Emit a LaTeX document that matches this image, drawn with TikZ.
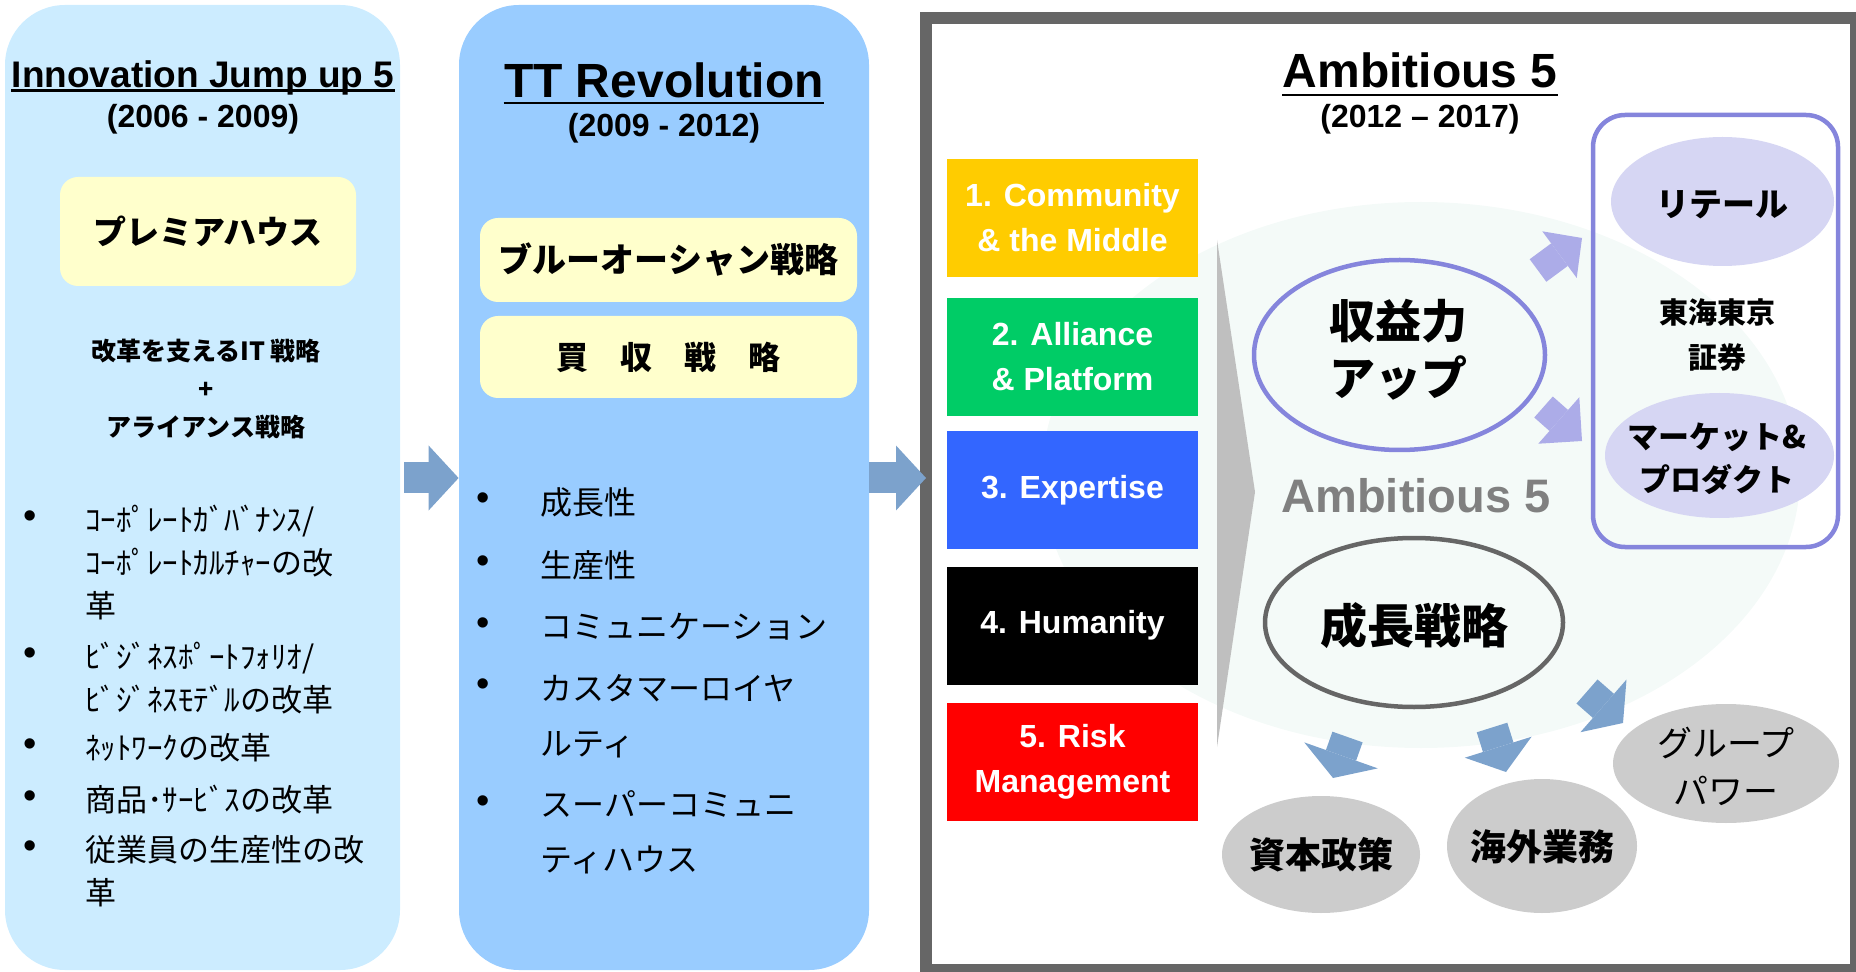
\documentclass[tikz,border=0pt]{standalone}
\usepackage{fontspec}
\setmainfont{Liberation Sans}
\newfontfamily\jpfont{Noto Sans CJK JP}
\usepackage{tikz}
\usetikzlibrary{arrows.meta, positioning, shapes.geometric, calc}
\definecolor{colPhaseA}{RGB}{204,236,255}
\definecolor{colPhaseB}{RGB}{153,204,255}
\definecolor{colNote}{RGB}{255,255,204}
\definecolor{colFrame}{RGB}{102,102,102}
\definecolor{colFlow}{RGB}{124,162,204}
\definecolor{colLilac}{RGB}{133,133,220}
\definecolor{colLilacBg}{RGB}{214,214,243}
\definecolor{colLilacArr}{RGB}{172,172,232}
\definecolor{colHalo}{RGB}{244,250,248}
\definecolor{colWedge}{RGB}{191,191,191}
\definecolor{colDisc}{RGB}{204,204,204}
\definecolor{colMark}{RGB}{128,128,128}
\definecolor{colP1}{RGB}{255,204,0}
\definecolor{colP2}{RGB}{0,204,102}
\definecolor{colP3}{RGB}{51,102,255}
\definecolor{colP5}{RGB}{255,0,0}
\tikzset{
  phase/.style={
    rectangle, rounded corners=30pt, inner sep=0pt,
    minimum width=197.5pt, minimum height=482.5pt
  },
  hilite/.style={
    rectangle, rounded corners=9pt, fill=colNote, inner sep=0pt
  },
  headline/.style={
    anchor=base, inner sep=0pt, font=\bfseries\fontsize{24}{28}\selectfont
  },
  years/.style={
    inner sep=0pt, font=\bfseries\fontsize{16}{19}\selectfont
  },
  uline/.style={line width=1.2pt},
  ambframe/.style={
    draw=colFrame, line width=6pt, rectangle, inner sep=0pt,
    minimum width=465pt, minimum height=476pt
  },
  pillar/.style={
    rectangle, inner sep=0pt, minimum width=125.5pt, minimum height=59pt,
    align=center, text=white, font=\bfseries\fontsize{16}{22.5}\selectfont
  },
  halo/.style={ellipse, fill=colHalo, inner sep=0pt},
  ring/.style={ellipse, line width=2.25pt, inner sep=0pt},
  pod/.style={ellipse, fill=colLilacBg, inner sep=0pt},
  disc/.style={ellipse, fill=colDisc, inner sep=0pt},
  jptext/.style={
    inner sep=0pt, align=center, font=\jpfont\bfseries\fontsize{18}{22}\selectfont
  },
  dotmark/.style={inner sep=0pt, font=\fontsize{19}{22}\selectfont},
  itemA/.style={
    anchor=west, align=left, inner sep=0pt,
    font=\jpfont\fontsize{15.5}{21.5}\selectfont
  },
  itemB/.style={
    anchor=west, align=left, inner sep=0pt,
    font=\jpfont\fontsize{16}{27.5}\selectfont
  },
  flowarr/.style={
    draw=colFlow, line width=15.5pt,
    -{Triangle[length=15pt, width=32.5pt, line width=0pt]}
  },
  bluearr/.style={
    draw=colFlow, line width=16pt,
    -{Triangle[length=13pt, width=35pt, line width=0pt]}
  },
  lilacarr/.style={
    draw=colLilacArr, line width=14pt,
    -{Triangle[length=14pt, width=29pt, line width=0pt]}
  },
}
\begin{document}
\begin{tikzpicture}[x=0.5pt, y=-0.5pt]
\useasboundingbox (0,0) rectangle (1856,972);
\clip (0,0) rectangle (1856,972);

% ── Panels ─────────────────────────────────────────────────────────────────
\node[phase, fill=colPhaseA] (jump) at (202.5,487.5) {};
\node[phase, fill=colPhaseB, minimum width=205pt] (revo) at (664,487.5) {};
\node[ambframe] (amb) at (1391,494) {};

% ── Panel 1: Innovation Jump up 5 ──────────────────────────────────────────
\node[headline, font=\bfseries\fontsize{18.5}{22}\selectfont] (jumpttl) at (203,88) {Innovation Jump up 5};
\draw[uline] ([yshift=-1.2pt]jumpttl.base west) -- ([yshift=-1.2pt]jumpttl.base east);
\node[years] (jumpyr) at (203,119) {(2006 - 2009)};
\node[hilite, minimum width=148pt, minimum height=54.5pt,
      font=\jpfont\bfseries\fontsize{16.5}{20}\selectfont] (premia) at (208,231.5) {プレミアハウス};
\node[jptext, font=\jpfont\bfseries\fontsize{12.5}{19}\selectfont] (itplus) at (206,389)
  {改革を支えるIT 戦略\\+\\アライアンス戦略};

% bullets
\node[dotmark] (ja1) at (30,520) {•};
\node[dotmark] (ja2) at (30,657) {•};
\node[dotmark] (ja3) at (30,748) {•};
\node[dotmark] (ja4) at (30,800) {•};
\node[dotmark] (ja5) at (30,850) {•};
\node[itemA] (jb1) at (85,563) {ｺｰﾎﾟﾚｰﾄｶﾞﾊﾞﾅﾝｽ/\\ｺｰﾎﾟﾚｰﾄｶﾙﾁｬｰの改\\革};
\node[itemA] (jb2) at (85,678.5) {ﾋﾞｼﾞﾈｽﾎﾟｰﾄﾌｫﾘｵ/\\ﾋﾞｼﾞﾈｽﾓﾃﾞﾙの改革};
\node[itemA] (jb3) at (85,748) {ﾈｯﾄﾜｰｸの改革};
\node[itemA] (jb4) at (85,800) {商品･ｻｰﾋﾞｽの改革};
\node[itemA] (jb5) at (85,871.5) {従業員の生産性の改\\革};

% ── Panel 2: TT Revolution ─────────────────────────────────────────────────
\node[headline] (revottl) at (664,98) {TT Revolution};
\draw[uline, line width=1.3pt] ([yshift=-2.5pt]revottl.base west) -- ([yshift=-2.5pt]revottl.base east);
\node[years] (revoyr) at (664,128) {(2009 - 2012)};
\node[hilite, minimum width=188.5pt, minimum height=42pt,
      font=\jpfont\bfseries\fontsize{17}{20}\selectfont] (ocean) at (668.5,260) {ブルーオーシャン戦略};
\node[hilite, minimum width=188.5pt, minimum height=41pt,
      font=\jpfont\bfseries\fontsize{16}{20}\selectfont] (buy) at (668.5,357) {買　収　戦　略};

% bullets
\node[dotmark] (ra1) at (483,502) {•};
\node[dotmark] (ra2) at (483,565) {•};
\node[dotmark] (ra3) at (483,627) {•};
\node[dotmark] (ra4) at (483,688) {•};
\node[dotmark] (ra5) at (483,805) {•};
\node[itemB] (rb1) at (540,502) {成長性};
\node[itemB] (rb2) at (540,565) {生産性};
\node[itemB] (rb3) at (540,627) {コミュニケーション};
\node[itemB] (rb4) at (540,716) {カスタマーロイヤ\\ルティ};
\node[itemB] (rb5) at (540,832) {スーパーコミュニ\\ティハウス};

% ── Flow between panels ────────────────────────────────────────────────────
\draw[flowarr, shorten <=2pt] ([yshift=4.75pt]jump.east) -- ([yshift=4.75pt]revo.west);
\draw[flowarr] ([yshift=4.75pt]revo.east) -- ([xshift=3pt, yshift=8pt]amb.west);

% ── Panel 3: Ambitious 5 ───────────────────────────────────────────────────
\node[headline] (ambttl) at (1420,88) {Ambitious 5};
\draw[uline] ([yshift=-3.5pt]ambttl.base west) -- ([yshift=-3.5pt]ambttl.base east);
\node[years] (ambyr) at (1420,119) {(2012 – 2017)};

\node[halo, minimum width=379pt, minimum height=273pt] (halo) at (1421,475) {};
\fill[colWedge] (1217,240) -- (1255,492) -- (1217,747) -- cycle;

% five pillars
\node[pillar, fill=colP1] (comm) at (1072.5,218) {1. Community\\\& the Middle};
\node[pillar, fill=colP2] (alli) at (1072.5,357) {2. Alliance\\\& Platform};
\node[pillar, fill=colP3] (expe) at (1072.5,490) {3. Expertise};
\node[pillar, fill=black] (huma) at (1072.5,625.5) {4. Humanity};
\node[pillar, fill=colP5] (risk) at (1072.5,762) {5. Risk\\Management};

% rings and discs
\node[ring, draw=colLilac, minimum width=145.5pt, minimum height=95pt] (profit) at (1399.5,355) {};
\node[ring, draw=colFrame, minimum width=149pt, minimum height=84.5pt] (growth) at (1414,622.5) {};
\node[draw=colLilac, line width=2.25pt, rounded corners=16pt, inner sep=0pt,
      minimum width=122.5pt, minimum height=216pt] (tts) at (1715.5,331) {};
\node[pod, minimum width=111.5pt, minimum height=64.5pt] (retail) at (1722.5,201.5) {};
\node[pod, minimum width=114.5pt, minimum height=62.5pt] (market) at (1719.5,455.5) {};
\node[disc, minimum width=99pt, minimum height=58.5pt] (capital) at (1321,854.5) {};
\node[disc, minimum width=95pt, minimum height=67pt] (overseas) at (1542,846) {};
\node[disc, minimum width=113pt, minimum height=59.5pt] (group) at (1726,763.5) {};

% fat arrows
\coordinate (up1) at (1538,270.5);  \coordinate (up2) at (1582,238);
\coordinate (dn1) at (1543.5,407);  \coordinate (dn2) at (1582,441);
\coordinate (ca1) at (1347.5,737);  \coordinate (ca2) at (1333,778);
\coordinate (ov1) at (1492,727.5);  \coordinate (ov2) at (1506,772);
\coordinate (gp1) at (1587,691.5);  \coordinate (gp2) at (1623,723);
\draw[lilacarr] (up1) -- (up2);
\draw[lilacarr, -{Triangle[length=15.5pt, width=31pt, line width=0pt]}] (dn1) -- (dn2);
\draw[bluearr, -{Triangle[length=12pt, width=39pt, line width=0pt]}] (ca1) -- (ca2);
\draw[bluearr] (ov1) -- (ov2);
\draw[bluearr] (gp1) -- (gp2);

% labels
\node[jptext, font=\jpfont\bfseries\fontsize{23}{28.5}\selectfont] (profit-t) at (1398,350) {収益力\\アップ};
\node[headline, text=colMark, font=\bfseries\fontsize{23.5}{28}\selectfont] (ambmark) at (1416,512) {Ambitious 5};
\node[jptext, font=\jpfont\bfseries\fontsize{23.5}{28}\selectfont] (growth-t) at (1414,626) {成長戦略};
\node[jptext, font=\jpfont\bfseries\fontsize{16.5}{20}\selectfont] (retail-t) at (1722,205) {リテール};
\node[jptext, font=\jpfont\bfseries\fontsize{14.5}{22.5}\selectfont] (tts-t) at (1717,334.5) {東海東京\\証券};
\node[jptext, font=\jpfont\bfseries\fontsize{15.5}{21.5}\selectfont] (market-t) at (1717,458.5) {マーケット\&\\プロダクト};
\node[jptext] (capital-t) at (1321,855) {資本政策};
\node[jptext] (overseas-t) at (1542,847) {海外業務};
\node[jptext, font=\jpfont\fontsize{17.5}{24}\selectfont] (group-t) at (1726,766) {グループ\\パワー};

\end{tikzpicture}
\end{document}
